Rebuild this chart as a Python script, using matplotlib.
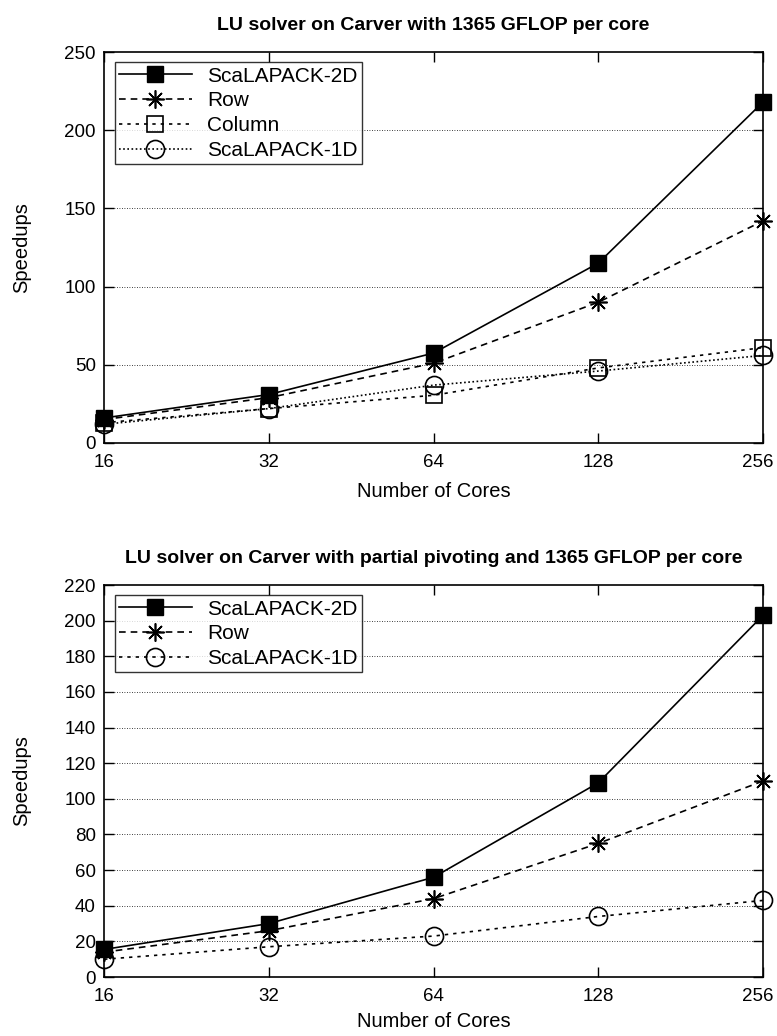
import matplotlib
matplotlib.use("Agg")
import matplotlib.pyplot as plt
from matplotlib.transforms import ScaledTranslation

plt.rcParams["font.family"] = ["Liberation Sans", "DejaVu Sans"]

cores = [16, 32, 64, 128, 256]

# top panel: no pivoting
top_2d = [16, 31, 57.5, 115, 218]
top_row = [15, 29, 51, 90, 142]
top_col = [13, 22, 30.5, 48, 61]
top_1d = [12, 22, 37, 46, 56]

# bottom panel: partial pivoting
bot_2d = [15.5, 30, 56, 109, 203]
bot_row = [14, 26, 44, 75, 110]
bot_1d = [10, 17, 23, 34, 43]

titles = [
    "LU solver on Carver with 1365 GFLOP per core",
    "LU solver on Carver with partial pivoting and 1365 GFLOP per core",
]

fig = plt.figure(figsize=(7.77, 10.36), dpi=100)
ax1 = fig.add_axes([0.134, 0.5724, 0.848, 0.3774])
ax2 = fig.add_axes([0.134, 0.0569, 0.848, 0.3784])

styles = {
    "ScaLAPACK-2D": dict(ls="-", marker="s", mfc="black", mec="black", ms=11.5),
    "Row": dict(ls=(0, (4, 3)), marker=(8, 2, 0), mfc="none", mec="black", ms=13, mew=1.2),
    "Column": dict(ls=(0, (2, 3)), marker="s", mfc="none", mec="black", ms=12, mew=1.2),
    "ScaLAPACK-1D": dict(ls=(0, (1, 1.5)), marker="o", mfc="none", mec="black", ms=13, mew=1.2),
}


def draw(ax, series, ymax, ystep, title, xpad):
    for name, vals in series:
        st = dict(styles[name])
        if name == "ScaLAPACK-1D" and len(series) == 3:
            st["ls"] = (0, (2, 3))
        ax.plot(cores, vals, color="black", lw=1.2, label=name, clip_on=False, **st)
    ax.set_xscale("log", base=2)
    ax.set_xlim(16, 256)
    ax.set_xticks(cores)
    ax.set_xticklabels([str(c) for c in cores])
    ax.minorticks_off()
    ax.set_ylim(0, ymax)
    ax.set_yticks(range(0, ymax + 1, ystep))
    ax.tick_params(direction="in", top=True, right=True, length=7, labelsize=13.5, width=1)
    ax.tick_params(axis="x", pad=8)
    ax.tick_params(axis="y", pad=6)
    # keep the last x label inside the figure
    last = ax.get_xticklabels()[-1]
    last.set_transform(last.get_transform() + ScaledTranslation(-5 / 100, 0, fig.dpi_scale_trans))
    for y in range(ystep, ymax, ystep):
        ax.axhline(y, color="black", lw=0.6, ls=(0, (1, 2)), zorder=0)
    for s in ax.spines.values():
        s.set_linewidth(1.2)
    ax.set_xlabel("Number of Cores", fontsize=14.5, labelpad=xpad)
    ax.set_ylabel("Speedups", fontsize=14.5, labelpad=24)
    ax.set_title(title, fontsize=14, fontweight="bold", pad=16)
    leg = ax.legend(loc="upper left", fontsize=15, frameon=True, fancybox=False,
                    handlelength=3.5, borderaxespad=0.5, labelspacing=0.28,
                    borderpad=0.2, handletextpad=0.75)
    leg.get_frame().set_edgecolor("black")
    leg.get_frame().set_linewidth(1.0)


draw(ax1, [("ScaLAPACK-2D", top_2d), ("Row", top_row), ("Column", top_col),
           ("ScaLAPACK-1D", top_1d)], 250, 50, titles[0], 8)
draw(ax2, [("ScaLAPACK-2D", bot_2d), ("Row", bot_row), ("ScaLAPACK-1D", bot_1d)],
     220, 20, titles[1], 5)

fig.savefig("out.png", dpi=100)
